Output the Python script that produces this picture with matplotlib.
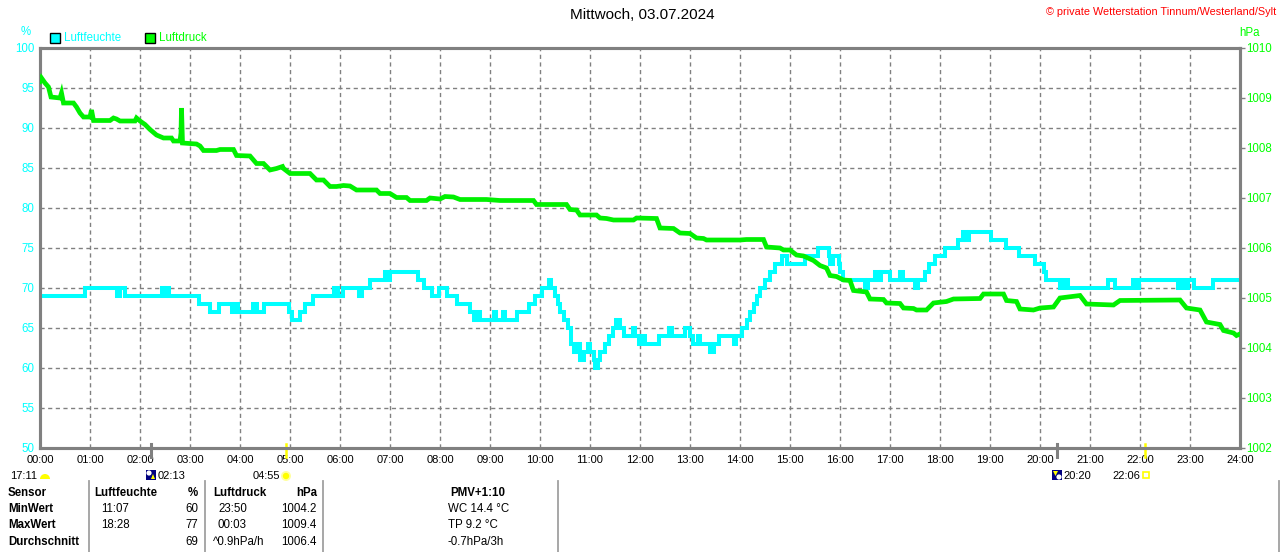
import numpy as np
import matplotlib.pyplot as plt
from matplotlib.patches import Rectangle, Circle, Wedge, Polygon

plt.rcParams['font.family'] = ['Liberation Sans', 'DejaVu Sans']

##############################################################################
#                        DATA
##############################################################################
# Luftfeuchte in %, step curve, time in hours since 00:00
hum_hours = [0.00, 0.90, 1.53, 1.60, 1.70, 2.43, 2.48, 2.52, 2.58, 3.17,
             3.40, 3.57, 3.83, 3.90, 3.95, 4.27, 4.33, 4.47, 4.97, 5.03,
             5.20, 5.30, 5.45, 5.87, 5.95, 6.05, 6.37, 6.43, 6.60, 6.90,
             6.95, 7.00, 7.55, 7.67, 7.83, 7.97, 8.13, 8.33, 8.60, 8.67,
             8.72, 8.80, 9.08, 9.12, 9.25, 9.30, 9.53, 9.77, 9.90, 10.03,
             10.18, 10.22, 10.30, 10.35, 10.40, 10.47, 10.55, 10.62, 10.68, 10.75,
             10.80, 10.87, 10.95, 11.00, 11.07, 11.10, 11.15, 11.20, 11.30, 11.38,
             11.45, 11.52, 11.60, 11.67, 11.85, 11.90, 11.97, 12.05, 12.10, 12.37,
             12.58, 12.63, 12.90, 13.00, 13.05, 13.15, 13.20, 13.40, 13.47, 13.57,
             13.88, 13.92, 14.03, 14.13, 14.20, 14.27, 14.33, 14.40, 14.50, 14.60,
             14.70, 14.83, 14.93, 15.30, 15.55, 15.77, 15.80, 15.85, 15.97, 16.00,
             16.05, 16.50, 16.55, 16.70, 16.78, 16.83, 17.00, 17.20, 17.25, 17.50,
             17.55, 17.70, 17.77, 17.90, 18.10, 18.35, 18.45, 18.52, 18.57, 19.02,
             19.33, 19.58, 19.90, 20.08, 20.12, 20.40, 20.47, 20.55, 21.35, 21.50,
             21.85, 21.92, 21.97, 22.75, 22.80, 22.87, 22.95, 23.08, 23.45, 24.00]
hum_pct = [69, 70, 69, 70, 69, 70, 69, 70, 69, 68,
           67, 68, 67, 68, 67, 68, 67, 68, 67, 66,
           67, 68, 69, 70, 69, 70, 69, 70, 71, 72,
           71, 72, 71, 70, 69, 70, 69, 68, 67, 66,
           67, 66, 67, 66, 67, 66, 67, 68, 69, 70,
           71, 70, 69, 68, 67, 66, 65, 63, 62, 63,
           61, 62, 63, 62, 61, 60, 61, 62, 63, 64,
           65, 66, 65, 64, 65, 64, 63, 64, 63, 64,
           65, 64, 65, 64, 63, 64, 63, 62, 63, 64,
           63, 64, 65, 66, 67, 68, 69, 70, 71, 72,
           73, 74, 73, 74, 75, 74, 73, 74, 73, 72,
           71, 70, 71, 72, 71, 72, 71, 72, 71, 70,
           71, 72, 73, 74, 75, 76, 77, 76, 77, 76,
           75, 74, 73, 72, 71, 70, 71, 70, 71, 70,
           71, 70, 71, 70, 71, 70, 71, 70, 71, 71]

# Luftdruck in hPa
p_hours = [0.00, 0.03, 0.10, 0.17, 0.22, 0.40, 0.43, 0.47, 0.67, 0.73,
           0.80, 0.87, 1.00, 1.03, 1.07, 1.40, 1.47, 1.53, 1.60, 1.90,
           1.93, 2.00, 2.10, 2.20, 2.33, 2.47, 2.63, 2.67, 2.80, 2.82,
           2.83, 2.85, 3.13, 3.20, 3.27, 3.53, 3.60, 3.87, 3.93, 4.20,
           4.27, 4.33, 4.47, 4.60, 4.73, 4.85, 4.87, 5.00, 5.40, 5.53,
           5.67, 5.80, 5.93, 6.07, 6.20, 6.33, 6.73, 6.80, 7.00, 7.13,
           7.33, 7.40, 7.73, 7.80, 8.00, 8.10, 8.27, 8.40, 8.93, 9.20,
           9.87, 9.93, 10.53, 10.60, 10.73, 10.80, 11.13, 11.20, 11.33, 11.47,
           11.87, 11.93, 12.33, 12.40, 12.67, 12.80, 13.00, 13.13, 13.27, 13.33,
           14.00, 14.13, 14.47, 14.53, 14.80, 14.87, 15.00, 15.13, 15.27, 15.47,
           15.60, 15.73, 15.80, 15.93, 16.07, 16.20, 16.27, 16.53, 16.60, 16.87,
           16.93, 17.20, 17.27, 17.47, 17.53, 17.73, 17.87, 18.13, 18.27, 18.80,
           18.87, 19.27, 19.33, 19.53, 19.60, 19.87, 20.00, 20.27, 20.40, 20.80,
           20.93, 21.47, 21.60, 22.80, 22.93, 23.20, 23.33, 23.60, 23.67, 23.87,
           23.93, 24.00]
p_hpa = [1009.33, 1009.40, 1009.30, 1009.22, 1009.02, 1009.00, 1009.10, 1008.90, 1008.90, 1008.82,
         1008.70, 1008.62, 1008.62, 1008.76, 1008.55, 1008.55, 1008.60, 1008.58, 1008.54, 1008.54,
         1008.60, 1008.54, 1008.47, 1008.37, 1008.26, 1008.20, 1008.20, 1008.14, 1008.14, 1008.30,
         1008.80, 1008.10, 1008.08, 1008.04, 1007.95, 1007.95, 1007.97, 1007.97, 1007.85, 1007.84,
         1007.76, 1007.69, 1007.69, 1007.56, 1007.59, 1007.63, 1007.59, 1007.49, 1007.49, 1007.36,
         1007.36, 1007.23, 1007.23, 1007.25, 1007.24, 1007.16, 1007.16, 1007.09, 1007.09, 1007.01,
         1007.01, 1006.95, 1006.95, 1007.00, 1006.98, 1007.03, 1007.02, 1006.97, 1006.97, 1006.95,
         1006.95, 1006.87, 1006.87, 1006.77, 1006.76, 1006.66, 1006.66, 1006.60, 1006.59, 1006.56,
         1006.56, 1006.60, 1006.59, 1006.40, 1006.39, 1006.30, 1006.29, 1006.20, 1006.19, 1006.16,
         1006.16, 1006.17, 1006.17, 1006.02, 1006.00, 1005.96, 1005.96, 1005.86, 1005.84, 1005.75,
         1005.65, 1005.60, 1005.45, 1005.43, 1005.36, 1005.35, 1005.15, 1005.12, 1004.98, 1004.97,
         1004.90, 1004.89, 1004.80, 1004.79, 1004.76, 1004.76, 1004.90, 1004.93, 1004.98, 1004.99,
         1005.08, 1005.08, 1004.95, 1004.93, 1004.78, 1004.76, 1004.80, 1004.82, 1005.00, 1005.05,
         1004.88, 1004.86, 1004.95, 1004.96, 1004.80, 1004.76, 1004.52, 1004.47, 1004.35, 1004.30,
         1004.25, 1004.28]

hour_ticks = list(range(25))
hour_labels = ['%02d:00' % h for h in hour_ticks]
hum_ticks = [50, 55, 60, 65, 70, 75, 80, 85, 90, 95, 100]
p_ticks = [1002, 1003, 1004, 1005, 1006, 1007, 1008, 1009, 1010]

# moon / sun rise and set (hours)
moon_times = [2 + 13/60, 20 + 20/60]
sun_times = [4 + 55/60, 22 + 6/60]

# summary table
row_names = ['MinWert', 'MaxWert', 'Durchschnitt']
hum_when = ['11:07', '18:28', '']
hum_vals = ['60', '77', '69']
p_when = ['23:50', '00:03', '^0.9hPa/h']
p_vals = ['1004.2', '1009.4', '1006.4']
extra_vals = ['WC 14.4 °C', 'TP 9.2 °C', '-0.7hPa/3h']

CYAN = '#00FFFF'
GREEN = '#00F000'
GRAY = '#808080'
FS = 8.3

##############################################################################
#                                PLOTTING
##############################################################################
fig = plt.figure(figsize=(12.8, 5.52), dpi=100, facecolor='white')
ax = fig.add_axes([40/1280, 104/552, 1200/1280, 400/552])
ax2 = ax.twinx()

ax.plot(hum_hours, hum_pct, color=CYAN, lw=2.9, drawstyle='steps-post',
        solid_joinstyle='miter', zorder=3)
ax2.plot(p_hours, p_hpa, color=GREEN, lw=3.4, solid_joinstyle='miter', zorder=3)

ax.set_xlim(0, 24)
ax.set_ylim(50, 100)
ax2.set_ylim(1002, 1010)
ax.set_xticks(hour_ticks)
ax.set_xticklabels(hour_labels)
ax.set_yticks(hum_ticks)
ax2.set_yticks(p_ticks)

ax.set_axisbelow(True)
ax.grid(True, color=GRAY, lw=1, dashes=(3, 2.5))
ax.tick_params(axis='x', length=0, pad=5, labelsize=8, labelcolor='black')
ax.tick_params(axis='y', length=0, pad=4, labelsize=FS, labelcolor=CYAN)
ax2.tick_params(axis='y', length=3.5, width=1, color=GRAY, pad=1,
                labelsize=FS, labelcolor='#00FF00')

for a in (ax, ax2):
    for s in a.spines.values():
        s.set_color(GRAY)
        s.set_linewidth(2.2)

# rise / set marks across the bottom axis
for t in moon_times:
    ax.plot([t, t], [0.01, -0.023], color=GRAY, lw=2.2,
            transform=ax.get_xaxis_transform(), clip_on=False, zorder=5)
for t in sun_times:
    ax.plot([t, t], [0.01, -0.023], color='#FFFF00', lw=1.8,
            transform=ax.get_xaxis_transform(), clip_on=False, zorder=5)

# overlay in pixel coordinates for texts, legend and table
ov = fig.add_axes([0, 0, 1, 1])
ov.set_xlim(0, 1280)
ov.set_ylim(552, 0)
ov.axis('off')

ov.text(642, 15, 'Mittwoch, 03.07.2024', fontsize=11, ha='center', va='center')
ov.text(1276, 12, '© private Wetterstation Tinnum/Westerland/Sylt', fontsize=7.8,
        color='#FF0000', ha='right', va='center')
ov.text(26, 32, '%', fontsize=FS, color=CYAN, ha='center', va='center')
ov.text(1250, 33, 'hPa', fontsize=FS, color='#00FF00', ha='center', va='center')

# legend
ov.add_patch(Rectangle((50, 33), 10, 10, facecolor=CYAN, edgecolor='black', lw=1))
ov.text(64, 38, 'Luftfeuchte', fontsize=FS, color=CYAN, va='center')
ov.add_patch(Rectangle((145, 33), 10, 10, facecolor='#00FF00', edgecolor='black', lw=1))
ov.text(159, 38, 'Luftdruck', fontsize=FS, color='#00FF00', va='center')

# rise / set times under the axis
ry = 476
ov.text(10, ry, '17:11', fontsize=8, va='center')
ov.add_patch(Wedge((45, ry + 3), 5, 180, 360, facecolor='#FFFF00', edgecolor='none'))
ov.add_patch(Rectangle((146, ry - 6), 10, 10, facecolor='#000080', edgecolor='none'))
ov.add_patch(Circle((149, ry - 3), 2.6, facecolor='white', edgecolor='none'))
ov.add_patch(Polygon([[151, ry + 3], [155, ry + 3], [153, ry - 2]], facecolor='#FFFF00'))
ov.text(158, ry, '02:13', fontsize=8, va='center')
ov.text(253, ry, '04:55', fontsize=8, va='center')
ov.add_patch(Circle((286, ry), 5, facecolor='#FFFFA0', edgecolor='none'))
ov.add_patch(Circle((286, ry), 3.2, facecolor='#FFFF00', edgecolor='none'))
ov.add_patch(Rectangle((1052, ry - 6), 10, 10, facecolor='#000080', edgecolor='none'))
ov.add_patch(Circle((1059, ry + 1), 2.6, facecolor='white', edgecolor='none'))
ov.add_patch(Polygon([[1053, ry - 5], [1058, ry - 5], [1055.5, ry]], facecolor='#FFFF00'))
ov.text(1063, ry, '20:20', fontsize=8, va='center')
ov.text(1112, ry, '22:06', fontsize=8, va='center')
ov.add_patch(Rectangle((1143, ry - 4), 6, 6, facecolor='none', edgecolor='#FFFF00', lw=1.2))

# summary table
for xs in (89, 205, 323, 558, 1279):
    ov.plot([xs, xs], [481, 552], color='#A0A0A0', lw=1.3)

hy = 493
ov.text(8, hy, 'Sensor', fontsize=FS, fontweight='bold', va='center')
ov.text(94, hy, 'Luftfeuchte', fontsize=FS, fontweight='bold', va='center')
ov.text(198, hy, '%', fontsize=FS, fontweight='bold', ha='right', va='center')
ov.text(213, hy, 'Luftdruck', fontsize=FS, fontweight='bold', va='center')
ov.text(317, hy, 'hPa', fontsize=FS, fontweight='bold', ha='right', va='center')
ov.text(478, hy, 'PMV+1:10', fontsize=FS, fontweight='bold', ha='center', va='center')

for i, name in enumerate(row_names):
    y = 509 + i*16.5
    ov.text(8, y, name, fontsize=FS, fontweight='bold', va='center')
    ov.text(101, y, hum_when[i], fontsize=FS, va='center')
    ov.text(198, y, hum_vals[i], fontsize=FS, ha='right', va='center')
    ov.text(218 if i < 2 else 213, y, p_when[i], fontsize=FS, va='center')
    ov.text(317, y, p_vals[i], fontsize=FS, ha='right', va='center')
    ov.text(448, y, extra_vals[i], fontsize=FS, va='center')

plt.savefig('out.png', dpi=100)
